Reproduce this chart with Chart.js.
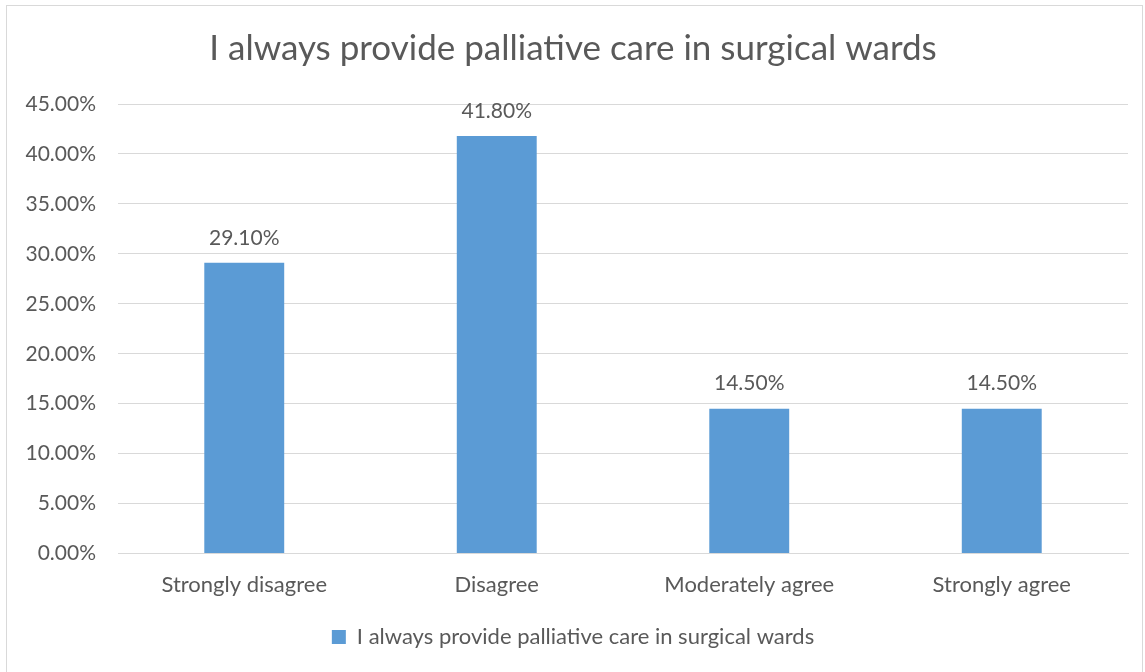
<!DOCTYPE html>
<html>
<head>
<meta charset="utf-8">
<script src="https://cdn.jsdelivr.net/npm/chart.js@4/dist/chart.umd.min.js"></script>
<style>
  html, body { margin: 0; padding: 0; background: #ffffff; }
  #wrap { width: 1145px; height: 672px; }
</style>
</head>
<body>
<div id="wrap"><canvas id="c" width="1145" height="672"></canvas></div>
<script>
const categories = ['Strongly disagree', 'Disagree', 'Moderately agree', 'Strongly agree'];
const values = [29.10, 41.80, 14.50, 14.50];
const seriesName = 'I always provide palliative care in surgical wards';
const chartTitle = 'I always provide palliative care in surgical wards';

const FONT = 'Lato, "Open Sans", sans-serif';
const TEXT = '#595959';
const GRID = '#d9d9d9';

// outer frame around the whole chart
const framePlugin = {
  id: 'frame',
  beforeDraw(chart) {
    const ctx = chart.ctx;
    ctx.save();
    ctx.fillStyle = '#ffffff';
    ctx.fillRect(0, 0, chart.width, chart.height);
    ctx.strokeStyle = GRID;
    ctx.lineWidth = 1;
    ctx.strokeRect(6.5, 5.5, 1136, 700);
    ctx.restore();
  }
};

// value labels above each bar
const valueLabels = {
  id: 'valueLabels',
  afterDatasetsDraw(chart) {
    const ctx = chart.ctx;
    const meta = chart.getDatasetMeta(0);
    ctx.save();
    ctx.font = '21px ' + FONT;
    ctx.fillStyle = TEXT;
    ctx.textAlign = 'center';
    ctx.textBaseline = 'middle';
    meta.data.forEach((bar, i) => {
      ctx.fillText(values[i].toFixed(2) + '%', bar.x, bar.y - 25);
    });
    ctx.restore();
  }
};

new Chart(document.getElementById('c'), {
  type: 'bar',
  data: {
    labels: categories,
    datasets: [{
      label: seriesName,
      data: values,
      backgroundColor: '#5b9bd5',
      borderWidth: 0,
      barPercentage: 0.633,
      categoryPercentage: 0.5
    }]
  },
  options: {
    responsive: false,
    animation: false,
    layout: { padding: { top: 10, left: 18, right: 17, bottom: 14 } },
    plugins: {
      title: {
        display: true,
        text: chartTitle,
        color: TEXT,
        font: { family: FONT, size: 35, weight: 'normal' },
        padding: { top: 18, bottom: 34 }
      },
      legend: {
        display: true,
        position: 'bottom',
        labels: {
          color: TEXT,
          font: { family: FONT, size: 22 },
          boxWidth: 14,
          boxHeight: 14,
          padding: 10
        }
      },
      tooltip: { enabled: false }
    },
    scales: {
      x: {
        grid: { display: false, drawTicks: false },
        border: { display: true, color: GRID, width: 1 },
        ticks: { color: TEXT, font: { family: FONT, size: 22 }, padding: 18 }
      },
      y: {
        min: 0,
        max: 45,
        afterFit(scale) { scale.width = 100; },
        grid: { color: GRID, drawTicks: false },
        border: { display: false },
        ticks: {
          stepSize: 5,
          color: TEXT,
          font: { family: FONT, size: 21 },
          padding: 22,
          callback: v => v.toFixed(2) + '%'
        }
      }
    }
  },
  plugins: [framePlugin, valueLabels]
});
</script>
</body>
</html>
